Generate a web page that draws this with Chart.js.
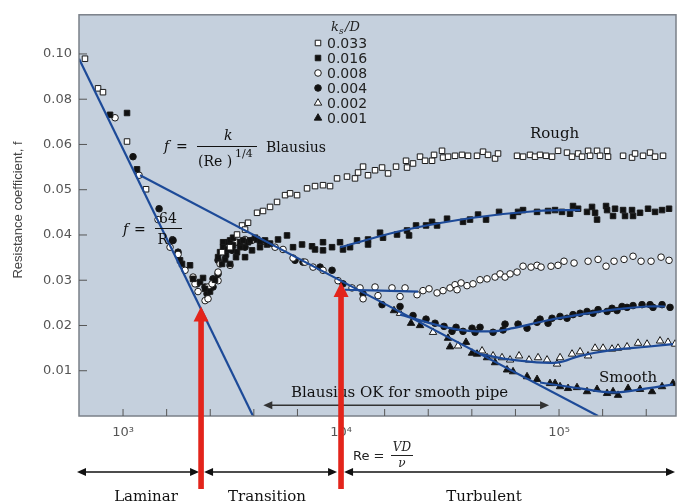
<!DOCTYPE html>
<html>
<head>
<meta charset="utf-8">
<script src="https://cdn.jsdelivr.net/npm/chart.js@4.4.0/dist/chart.umd.min.js"></script>
<style>
  html, body { margin: 0; padding: 0; background: #fff; }
</style>
</head>
<body>
<canvas id="chart" width="682" height="504"></canvas>
<script>
// roughness k_s/D of each series
const roughness = ['0.033', '0.016', '0.008', '0.004', '0.002', '0.001'];

// [Re, f]
const pts033 = [[669,.0979],[768,.0848],[809,.0831],[1043,.0613],[1275,.0501],[2846,.0362],[3096,.0373],[3333,.0401],[3515,.0421],[3628,.0412],[3745,.0427],[4119,.0449],[4387,.0453],[4724,.0462],[5087,.0473],[5537,.0488],[5838,.0492],[6284,.0488],[6983,.0503],[7598,.0508],[8267,.0510],[8904,.0508],[9587,.0525],[10650,.0529],[11590,.0525],[11970,.0538],[12620,.0551],[13300,.0532],[14320,.0543],[15420,.0549],[16430,.0536],[17880,.0551],[19870,.0564],[20080,.0549],[21390,.0558],[23030,.0573],[24290,.0564],[26150,.0564],[26710,.0577],[29060,.0586],[29370,.0571],[30960,.0573],[33330,.0575],[35890,.0577],[38240,.0575],[42060,.0575],[44810,.0584],[47240,.0577],[50870,.0569],[52510,.0580],[64180,.0575],[68380,.0573],[73620,.0577],[77620,.0573],[81820,.0577],[87170,.0575],[92880,.0573],[98950,.0586],[108800,.0582],[114700,.0573],[122300,.0580],[127500,.0573],[135900,.0586],[138800,.0575],[149400,.0586],[154200,.0575],[166100,.0586],[167800,.0573],[196700,.0575],[216200,.0571],[223200,.0580],[242900,.0575],[261500,.0582],[275700,.0573],[300000,.0575]];

const pts016 = [[872,.0731],[1043,.0739],[1159,.0545],[1826,.0344],[1865,.0336],[2029,.0333],[2095,.0303],[2255,.0296],[2328,.0305],[2378,.0281],[2506,.0275],[2642,.0301],[2728,.0351],[2786,.0362],[2846,.0336],[2876,.0384],[2876,.0373],[2938,.0346],[2969,.0357],[3000,.0368],[3032,.0384],[3096,.0336],[3096,.0388],[3196,.0377],[3196,.0394],[3298,.0351],[3333,.0362],[3441,.0373],[3441,.0384],[3552,.0388],[3628,.0351],[3745,.0384],[3825,.0388],[3906,.0366],[4032,.0394],[4119,.0390],[4250,.0386],[4250,.0373],[4481,.0388],[4577,.0379],[4724,.0381],[5140,.0390],[5653,.0399],[6023,.0373],[6624,.0379],[7362,.0375],[7598,.0368],[8267,.0384],[8267,.0366],[9094,.0373],[9895,.0384],[10210,.0368],[11000,.0373],[11840,.0388],[13300,.0390],[13300,.0379],[15100,.0405],[15580,.0394],[18070,.0401],[20080,.0410],[20510,.0399],[22080,.0421],[24540,.0421],[26150,.0429],[27570,.0421],[30640,.0436],[36270,.0429],[39060,.0434],[42510,.0445],[46260,.0434],[53070,.0451],[61520,.0442],[64860,.0451],[68380,.0455],[79290,.0451],[89040,.0453],[95870,.0455],[103200,.0451],[112300,.0447],[115900,.0464],[122300,.0458],[134400,.0451],[141700,.0462],[146300,.0449],[149400,.0434],[164300,.0464],[166100,.0455],[176900,.0442],[180700,.0458],[196700,.0455],[200800,.0442],[216200,.0455],[218500,.0442],[235300,.0449],[256000,.0458],[275700,.0451],[296900,.0455],[319600,.0458]];

const pts008 = [[919,.0718],[1184,.0532],[1447,.0434],[1643,.0373],[1788,.0357],[1925,.0322],[2095,.0307],[2139,.0292],[2208,.0275],[2378,.0255],[2454,.0259],[2454,.0285],[2560,.0292],[2728,.0299],[2728,.0318],[2786,.0336],[3096,.0333],[3333,.0384],[3628,.0390],[3906,.0388],[4387,.0386],[4981,.0373],[5419,.0368],[6023,.0349],[6837,.0340],[7440,.0329],[8267,.0322],[9688,.0299],[11230,.0283],[12220,.0283],[12620,.0259],[14320,.0285],[14780,.0266],[17130,.0283],[18650,.0264],[19660,.0283],[22320,.0268],[23770,.0277],[25330,.0281],[27570,.0272],[29370,.0277],[31620,.0283],[33330,.0290],[34060,.0279],[35530,.0294],[37840,.0288],[40310,.0292],[43410,.0301],[46740,.0303],[50870,.0307],[53630,.0314],[56540,.0307],[59620,.0314],[64180,.0318],[68380,.0331],[74400,.0329],[79290,.0333],[82690,.0329],[91880,.0331],[98950,.0333],[105400,.0342],[117200,.0338],[135900,.0342],[151000,.0346],[164300,.0331],[178800,.0342],[198700,.0346],[218500,.0353],[237800,.0342],[264300,.0342],[293800,.0351],[319600,.0344]];

const pts004 = [[1111,.0573],[1463,.0458],[1696,.0388],[1788,.0362],[2185,.0292],[2378,.0285],[2428,.0270],[2506,.0285],[2587,.0303],[2587,.0285],[2728,.0314],[2728,.0344],[3162,.0366],[3628,.0373],[6152,.0344],[6693,.0340],[8011,.0329],[9094,.0322],[10210,.0292],[12620,.0270],[15420,.0246],[18650,.0242],[21390,.0222],[24540,.0214],[26990,.0205],[29680,.0198],[32300,.0187],[33700,.0196],[36270,.0187],[39900,.0194],[41190,.0185],[43410,.0196],[49810,.0185],[55350,.0190],[56540,.0203],[64860,.0203],[71330,.0194],[79290,.0207],[81820,.0214],[89040,.0205],[92880,.0216],[101100,.0220],[108800,.0216],[115900,.0224],[124900,.0227],[134400,.0231],[143200,.0227],[151000,.0235],[166100,.0231],[175000,.0238],[184500,.0233],[194500,.0242],[205100,.0240],[218500,.0244],[240300,.0246],[261500,.0246],[269900,.0240],[296900,.0246],[323000,.0240]];

const pts002 = [[18650,.0227],[26420,.0185],[34420,.0155],[44350,.0144],[49810,.0133],[54760,.0129],[59620,.0124],[65550,.0133],[72850,.0124],[80120,.0129],[88110,.0124],[97910,.0115],[101100,.0129],[114700,.0137],[124900,.0142],[135900,.0133],[146300,.0150],[159200,.0150],[175000,.0148],[186500,.0150],[205100,.0153],[230400,.0161],[253400,.0159],[290700,.0166],[316200,.0163],[340600,.0159]];

const pts001 = [[17500,.0233],[20950,.0205],[23030,.0200],[30960,.0172],[31620,.0153],[37440,.0163],[39900,.0139],[42060,.0137],[46740,.0129],[50870,.0118],[57750,.0102],[61520,.0098],[71330,.0087],[79290,.0081],[90910,.0072],[95870,.0072],[101100,.0065],[110000,.0061],[120900,.0063],[134400,.0054],[149400,.0059],[166100,.0050],[176900,.0054],[186500,.0046],[207300,.0061],[235300,.0059],[267100,.0054],[296900,.0065],[333300,.0072]];

// blue lines: laminar 64/Re, Blasius, and the curves through the data
const laminarLine = [[628,.0979],[3947,0]];
const blasiusLine = [[1197,.0532],[151000,0]];
const fit016 = [[9895,.0373],[20080,.0412],[40310,.0438],[79290,.0453],[124900,.0455]];
const fit008 = [[10430,.0279],[22560,.0275]];
const fit004 = [[18650,.0224],[33330,.0192],[48250,.0187],[61520,.0194],[88110,.0211],[124900,.0224],[176900,.0235],[253400,.0242],[306400,.0242]];
const fit002 = [[43410,.0137],[61520,.0124],[97910,.0118],[124900,.0133],[176900,.0146],[253400,.0153],[333300,.0159]];
const fit001 = [[81820,.0074],[124900,.0061],[176900,.0052],[253400,.0061],[333300,.0070]];

// axes
const xTickVals = [1000,1585,2512,3981,6310,10000,15850,25120,39810,63100,100000,158500,251200];
const xTickText = ['10\u00b3','','','','','10\u2074','','','','','10\u2075','',''];
const yTickVals = [0.01,0.02,0.03,0.04,0.05,0.06,0.08,0.10];
const yTickText = ['0.01','0.02','0.03','0.04','0.05','0.06','0.08','0.10'];
const xMin = 628, xMax = 344000, yMaxF = 0.1173;

// the f axis is stretched: 0.01 per step up to 0.06, then 0.02 per step
function toU(f) { return f <= 0.06 ? f * 100 : 6 + (f - 0.06) * 50; }
const toXY = arr => arr.map(p => ({ x: p[0], y: toU(p[1]) }));

const BLUE = '#1d4a98';
const markers = [
  { style: 'rect', fill: '#ffffff', r: 3.9 },
  { style: 'rect', fill: '#111111', r: 3.9 },
  { style: 'circle', fill: '#ffffff', r: 3.3 },
  { style: 'circle', fill: '#111111', r: 3.3 },
  { style: 'triangle', fill: '#ffffff', r: 4.3 },
  { style: 'triangle', fill: '#111111', r: 4.3 }
];
const series = [pts033, pts016, pts008, pts004, pts002, pts001];

const datasets = [];
[laminarLine, blasiusLine, fit016, fit008, fit004, fit002, fit001].forEach(l => {
  datasets.push({
    data: toXY(l), showLine: true, pointRadius: 0, borderColor: BLUE,
    borderWidth: 2.2, tension: 0.4, order: 1
  });
});
series.forEach((s, i) => {
  datasets.push({
    label: roughness[i], data: toXY(s), showLine: false,
    pointStyle: markers[i].style, pointRadius: markers[i].r,
    backgroundColor: markers[i].fill, borderColor: '#1a1a1a', borderWidth: 1, order: 2
  });
});

function marker(ctx, m, x, y) {
  ctx.beginPath();
  if (m.style === 'rect') {
    const h = m.r * Math.SQRT1_2;
    ctx.rect(x - h, y - h, 2 * h, 2 * h);
  } else if (m.style === 'circle') {
    ctx.arc(x, y, m.r, 0, Math.PI * 2);
  } else {
    ctx.moveTo(x, y - m.r);
    ctx.lineTo(x + m.r * 0.866, y + m.r * 0.5);
    ctx.lineTo(x - m.r * 0.866, y + m.r * 0.5);
    ctx.closePath();
  }
  ctx.fillStyle = m.fill; ctx.fill();
  ctx.strokeStyle = '#1a1a1a'; ctx.lineWidth = 1; ctx.stroke();
}

function seg(ctx, x1, y1, x2, y2) {
  ctx.beginPath(); ctx.moveTo(x1, y1); ctx.lineTo(x2, y2); ctx.stroke();
}

function head(ctx, x, y, dir, len, half) {
  ctx.beginPath();
  ctx.moveTo(x, y);
  ctx.lineTo(x - dir * len, y - half);
  ctx.lineTo(x - dir * len, y + half);
  ctx.closePath(); ctx.fill();
}

function dblArrow(ctx, x1, x2, y) {
  seg(ctx, x1 + 6, y, x2 - 6, y);
  head(ctx, x1, y, -1, 9, 4);
  head(ctx, x2, y, 1, 9, 4);
}

function redArrow(ctx, x, tip, base) {
  ctx.fillStyle = '#e3241b';
  ctx.fillRect(x - 2.8, tip + 12, 5.6, base - tip - 12);
  ctx.beginPath();
  ctx.moveTo(x, tip);
  ctx.lineTo(x - 7.5, tip + 15);
  ctx.lineTo(x + 7.5, tip + 15);
  ctx.closePath(); ctx.fill();
}

const decor = {
  id: 'decor',
  beforeDraw(chart) {
    const { ctx, chartArea: a } = chart;
    ctx.save();
    ctx.fillStyle = '#c5d0dd';
    ctx.fillRect(a.left, a.top, a.right - a.left, a.bottom - a.top);
    ctx.restore();
  },
  afterDraw(chart) {
    const { ctx, chartArea: a } = chart;
    const x = chart.scales.x, y = chart.scales.y;
    ctx.save();

    // frame and inside ticks
    ctx.strokeStyle = '#7a8088'; ctx.lineWidth = 1.5;
    ctx.strokeRect(a.left, a.top, a.right - a.left, a.bottom - a.top);
    ctx.strokeStyle = '#555'; ctx.lineWidth = 1;
    x.ticks.forEach(t => { const px = x.getPixelForValue(t.value); seg(ctx, px, a.bottom, px, a.bottom - 7); });
    y.ticks.forEach(t => { const py = y.getPixelForValue(t.value); seg(ctx, a.left, py, a.left + 8, py); });

    // y title
    ctx.fillStyle = '#444';
    ctx.font = '13px "Liberation Sans", Arial, sans-serif';
    ctx.textAlign = 'center'; ctx.textBaseline = 'middle';
    ctx.save();
    ctx.translate(18, 210); ctx.rotate(-Math.PI / 2);
    ctx.fillText('Resistance coefficient, f', 0, 0);
    ctx.restore();

    // legend
    ctx.fillStyle = '#222';
    ctx.textAlign = 'left'; ctx.textBaseline = 'alphabetic';
    ctx.font = 'italic 13px "DejaVu Serif", serif';
    ctx.fillText('k', 331, 31);
    ctx.font = 'italic 9px "DejaVu Serif", serif';
    ctx.fillText('s', 339, 34);
    ctx.font = 'italic 13px "DejaVu Serif", serif';
    ctx.fillText('/D', 345, 31);
    ctx.font = '14px "DejaVu Sans", sans-serif';
    roughness.forEach((r, i) => {
      const ry = 43 + i * 15;
      marker(ctx, markers[i], 318, ry);
      ctx.fillStyle = '#222';
      ctx.fillText(r, 327, ry + 5);
    });

    // Blasius formula
    ctx.fillStyle = '#111'; ctx.strokeStyle = '#111';
    ctx.font = 'italic 14px "DejaVu Serif", serif';
    ctx.fillText('f', 164, 151);
    ctx.font = '14px "DejaVu Serif", serif';
    ctx.fillText('=', 176, 151);
    ctx.font = 'italic 14px "DejaVu Serif", serif';
    ctx.fillText('k', 224, 140);
    ctx.lineWidth = 1; seg(ctx, 197, 146.5, 257, 146.5);
    ctx.font = '14px "DejaVu Serif", serif';
    ctx.fillText('(Re )', 198, 166);
    ctx.font = '11px "DejaVu Serif", serif';
    ctx.fillText('1/4', 235, 157);
    ctx.font = '14px "DejaVu Serif", serif';
    ctx.fillText('Blausius', 266, 152);

    // laminar formula
    ctx.font = 'italic 14px "DejaVu Serif", serif';
    ctx.fillText('f', 123, 234);
    ctx.font = '14px "DejaVu Serif", serif';
    ctx.fillText('=', 134, 234);
    ctx.textAlign = 'center';
    ctx.fillText('64', 168, 223);
    seg(ctx, 155, 228.5, 182, 228.5);
    ctx.fillText('Re', 167, 244);

    // region labels
    ctx.textAlign = 'left';
    ctx.font = '15px "DejaVu Serif", serif';
    ctx.fillText('Rough', 530, 138);
    ctx.fillText('Smooth', 599, 382);
    ctx.fillText('Blausius OK for smooth pipe', 291, 397);
    ctx.fillStyle = '#333'; ctx.strokeStyle = '#333'; ctx.lineWidth = 1.5;
    const yOk = y.getPixelForValue(toU(0.0024));
    dblArrow(ctx, x.getPixelForValue(4400), x.getPixelForValue(90000), yOk);

    // Re = VD/nu
    ctx.fillStyle = '#222'; ctx.strokeStyle = '#222';
    ctx.font = '13px "DejaVu Sans", sans-serif';
    ctx.fillText('Re =', 353, 460);
    ctx.textAlign = 'center';
    ctx.font = 'italic 12px "DejaVu Serif", serif';
    ctx.fillText('VD', 402, 451);
    ctx.lineWidth = 1; seg(ctx, 391, 455.5, 413, 455.5);
    ctx.fillText('\u03bd', 402, 467);

    // flow regimes along the bottom
    const xa = x.getPixelForValue(2280), xb = x.getPixelForValue(10000);
    ctx.fillStyle = '#111'; ctx.strokeStyle = '#111'; ctx.lineWidth = 1.5;
    dblArrow(ctx, 77, xa - 2, 472);
    dblArrow(ctx, xa + 3, xb - 4, 472);
    dblArrow(ctx, xb + 3, 675, 472);
    ctx.font = '15px "DejaVu Serif", serif';
    ctx.fillText('Laminar', 146, 501);
    ctx.fillText('Transition', 267, 501);
    ctx.fillText('Turbulent', 484, 501);

    redArrow(ctx, xa, y.getPixelForValue(toU(0.0242)), 489);
    redArrow(ctx, xb, y.getPixelForValue(toU(0.0296)), 489);

    ctx.restore();
  }
};

new Chart(document.getElementById('chart'), {
  type: 'scatter',
  data: { datasets },
  options: {
    responsive: false,
    animation: false,
    devicePixelRatio: 1,
    events: [],
    layout: { padding: { top: 9, right: 6, left: 0, bottom: 0 } },
    plugins: { legend: { display: false }, tooltip: { enabled: false } },
    scales: {
      x: {
        type: 'logarithmic', min: xMin, max: xMax,
        grid: { display: false, drawTicks: false }, border: { display: false },
        ticks: {
          autoSkip: false, maxRotation: 0, padding: 9, color: '#555',
          font: { family: 'DejaVu Sans', size: 13 },
          callback: (v, i) => xTickText[i]
        },
        afterBuildTicks: s => { s.ticks = xTickVals.map(v => ({ value: v })); },
        afterFit: s => { s.height = 88; }
      },
      y: {
        type: 'linear', min: 0, max: toU(yMaxF),
        grid: { display: false, drawTicks: false }, border: { display: false },
        ticks: {
          padding: 7, color: '#555',
          font: { family: 'DejaVu Sans', size: 13 },
          callback: (v, i) => yTickText[i]
        },
        afterBuildTicks: s => { s.ticks = yTickVals.map(f => ({ value: toU(f) })); },
        afterFit: s => { s.width = 79; }
      }
    }
  },
  plugins: [decor]
});
</script>
</body>
</html>
